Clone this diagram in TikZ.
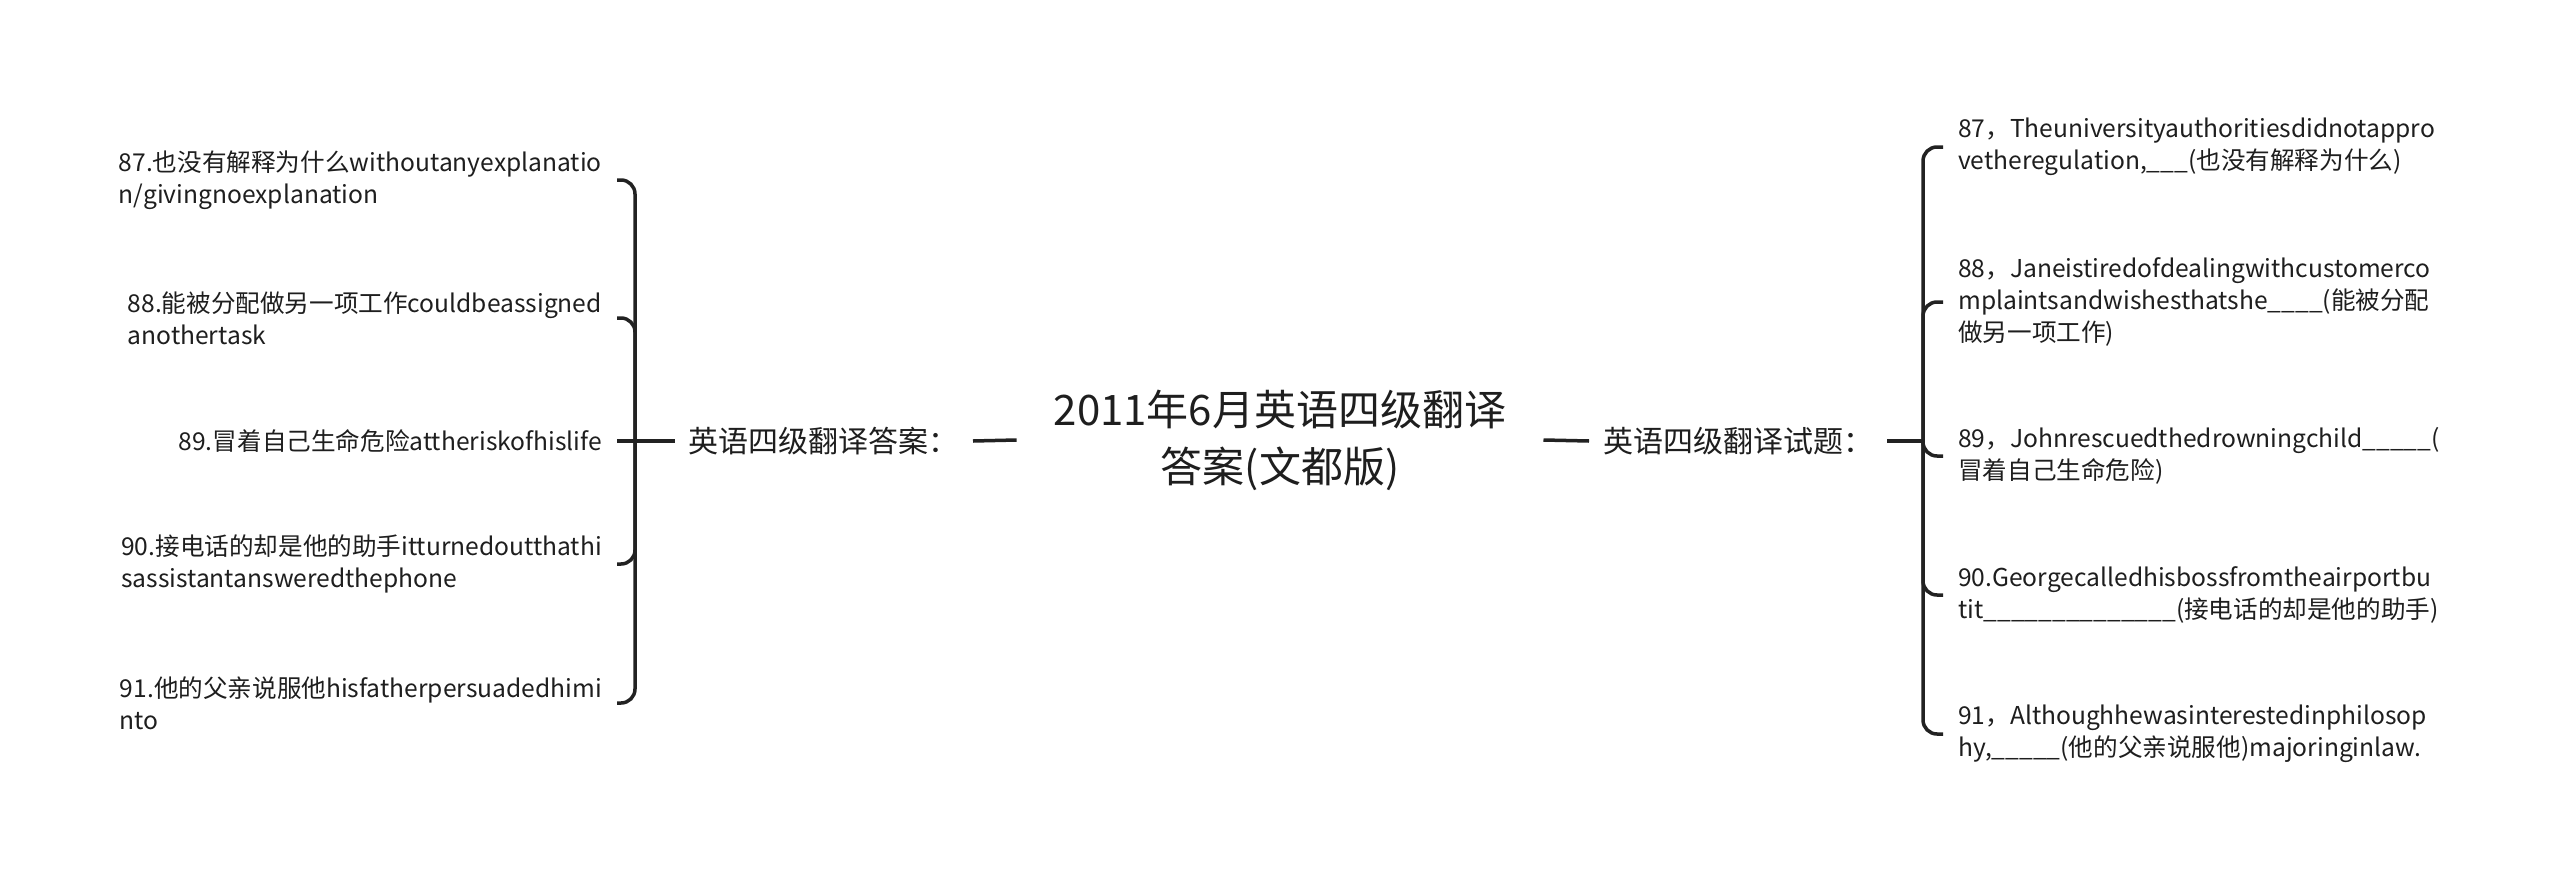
\documentclass[tikz,border=0pt]{standalone}
\usepackage{fontspec}
\setmainfont{Noto Sans CJK SC}
\definecolor{txt}{HTML}{1E1E1E}
\definecolor{ln}{HTML}{222222}
\begin{document}
\begin{tikzpicture}[x=1pt,y=-1pt,
  leafbase/.style={align=left, inner xsep=15pt, inner ysep=0pt, text=txt, font=\fontsize{24.6}{32}\selectfont},
  leafL/.style={leafbase, anchor=east},
  leafR/.style={leafbase, anchor=west},
  branch/.style={inner xsep=14pt, inner ysep=0pt, text=txt, font=\fontsize{30}{36}\selectfont},
  titlebox/.style={align=center, inner xsep=37pt, inner ysep=0pt, text=txt, font=\fontsize{42}{57}\selectfont},
  conn/.style={draw=ln, line width=3.5pt, rounded corners=14pt}]
\useasboundingbox (0,0) rectangle (2560,881);
\fill[white] (0,0) rectangle (2560,881);

\node[titlebox] (root) at (1280,440) {2011年6月英语四级翻译\\答案(文都版)};

\node[branch, anchor=east] (bl) at (973,441) {英语四级翻译答案：};
\node[branch, anchor=west] (br) at (1589,441) {英语四级翻译试题：};

\coordinate (jL) at (635,441);
\coordinate (jR) at (1923,441);

% left leaves
\node[leafL] (l87) at (617,180) {87.也没有解释为什么withoutanyexplanatio\\n/givingnoexplanation};
\node[leafL] (l88) at (617,318) {88.能被分配做另一项工作couldbeassigned\\anothertask};
\node[leafL] (l89) at (617,441) {89.冒着自己生命危险attheriskofhislife};
\node[leafL] (l90) at (617,564) {90.接电话的却是他的助手itturnedoutthathi\\sassistantansweredthephone};
\node[leafL] (l91) at (617,703) {91.他的父亲说服他hisfatherpersuadedhimi\\nto};

% right leaves
\node[leafR] (r87) at (1943,147) {87，Theuniversityauthoritiesdidnotappro\\vetheregulation,\_\_\_(也没有解释为什么)};
\node[leafR] (r88) at (1943,302) {88，Janeistiredofdealingwithcustomerco\\mplaintsandwishesthatshe\_\_\_\_(能被分配\\做另一项工作)};
\node[leafR] (r89) at (1943,456) {89，Johnrescuedthedrowningchild\_\_\_\_\_(\\冒着自己生命危险)};
\node[leafR] (r90) at (1943,595) {90.Georgecalledhisbossfromtheairportbu\\tit\_\_\_\_\_\_\_\_\_\_\_\_\_\_(接电话的却是他的助手)};
\node[leafR] (r91) at (1943,734) {91，Althoughhewasinterestedinphilosop\\hy,\_\_\_\_\_(他的父亲说服他)majoringinlaw.};

% connectors
\draw[conn] (root.west) -- (bl.east);
\draw[conn] (root.east) -- (br.west);
\draw[conn] (bl.west) -- (jL);
\draw[conn] (br.east) -- (jR);

\draw[conn] (jL) |- (l87.east);
\draw[conn] (jL) |- (l88.east);
\draw[conn] (jL) -- (l89.east);
\draw[conn] (jL) |- (l90.east);
\draw[conn] (jL) |- (l91.east);

\draw[conn] (jR) |- (r87.west);
\draw[conn] (jR) |- (r88.west);
\draw[conn] (jR) |- (r89.west);
\draw[conn] (jR) |- (r90.west);
\draw[conn] (jR) |- (r91.west);
\end{tikzpicture}
\end{document}
